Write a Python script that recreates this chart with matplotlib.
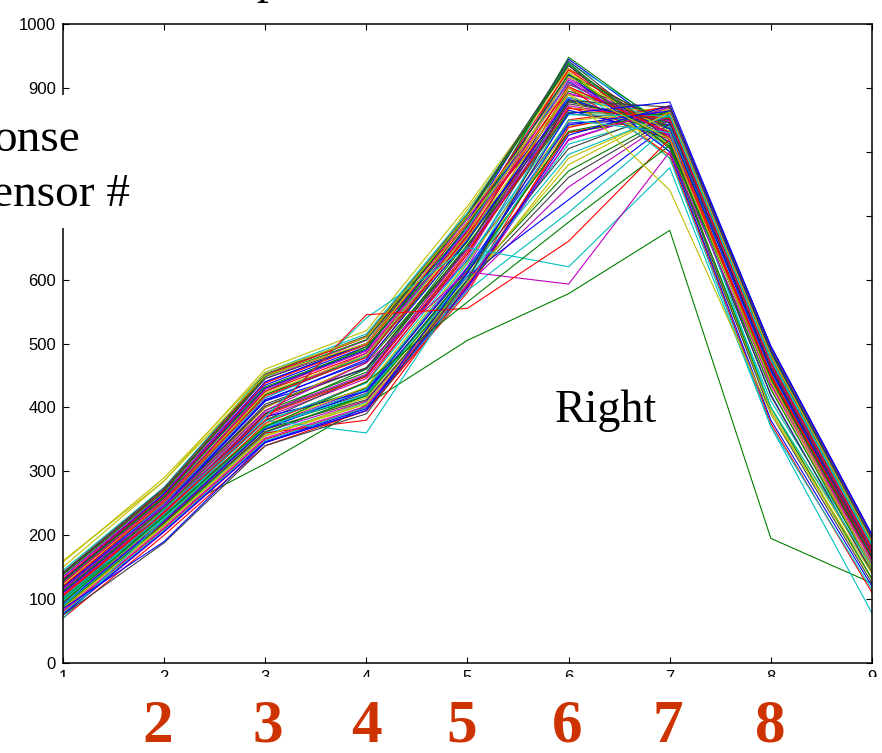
import matplotlib
matplotlib.use('Agg')
import matplotlib.pyplot as plt
from matplotlib.patches import Rectangle

# sensor index on the x axis
sensors = [1, 2, 3, 4, 5, 6, 7, 8, 9]

# responses, one row per trial (sensor 1..9)
resp_high = [
    [130, 260, 440, 500, 690, 945, 830, 470, 180],
    [120, 250, 420, 480, 680, 940, 840, 460, 170],
    [140, 270, 450, 510, 700, 935, 820, 450, 160],
    [110, 240, 400, 470, 670, 930, 835, 440, 175],
    [125, 255, 430, 490, 710, 925, 810, 430, 150],
    [100, 235, 390, 460, 660, 920, 845, 470, 190],
    [135, 265, 445, 505, 695, 915, 825, 455, 165],
    [115, 245, 410, 475, 685, 910, 815, 420, 140],
    [145, 275, 455, 515, 705, 940, 800, 410, 155],
    [105, 230, 380, 450, 650, 905, 850, 480, 185],
    [95, 225, 375, 440, 640, 900, 840, 465, 170],
    [150, 285, 460, 520, 715, 930, 790, 400, 145],
    [128, 258, 425, 495, 675, 948, 835, 445, 160],
    [118, 248, 415, 485, 665, 912, 828, 435, 158],
    [130, 265, 430, 490, 690, 920, 800, 380, 120],
    [115, 250, 415, 480, 680, 910, 790, 370, 115],
    [140, 272, 445, 500, 700, 935, 805, 390, 125],
    [132, 262, 438, 498, 688, 928, 822, 452, 162],
    [122, 252, 422, 482, 672, 918, 832, 442, 158],
    [138, 268, 448, 506, 698, 938, 812, 428, 148],
    [126, 256, 428, 488, 678, 908, 826, 436, 152],
    [142, 274, 452, 512, 702, 942, 818, 418, 142],
    [128, 260, 432, 492, 684, 922, 808, 400, 132],
    [120, 252, 418, 478, 668, 902, 830, 448, 162],
]
resp_mid = [
    [120, 250, 400, 470, 650, 895, 845, 470, 180],
    [100, 230, 370, 430, 620, 890, 855, 480, 195],
    [135, 265, 440, 500, 680, 885, 830, 450, 165],
    [90, 220, 360, 420, 610, 880, 860, 485, 190],
    [110, 240, 390, 450, 640, 875, 850, 475, 175],
    [140, 270, 450, 510, 690, 870, 820, 440, 150],
    [85, 215, 355, 410, 600, 868, 865, 490, 195],
    [125, 255, 420, 480, 660, 880, 838, 460, 170],
    [105, 235, 385, 445, 635, 892, 848, 455, 160],
    [130, 262, 435, 495, 670, 865, 826, 448, 168],
    [98, 228, 368, 428, 625, 885, 852, 478, 185],
    [115, 244, 405, 462, 648, 860, 842, 466, 176],
    [125, 255, 425, 485, 675, 900, 795, 375, 110],
    [105, 240, 400, 470, 665, 890, 810, 395, 130],
    [112, 242, 395, 455, 655, 862, 858, 482, 188],
    [108, 238, 392, 452, 648, 872, 848, 468, 178],
    [118, 246, 412, 472, 662, 882, 836, 458, 166],
    [102, 232, 378, 438, 632, 858, 856, 476, 186],
    [114, 244, 402, 462, 652, 878, 846, 462, 172],
    [106, 236, 388, 448, 644, 868, 852, 470, 180],
]
resp_low = [
    [80, 210, 350, 400, 590, 850, 870, 495, 200],
    [95, 225, 365, 415, 605, 840, 862, 485, 190],
    [110, 235, 380, 430, 615, 830, 855, 470, 180],
    [75, 205, 345, 395, 585, 820, 868, 490, 198],
    [120, 250, 410, 460, 630, 845, 850, 465, 172],
    [88, 218, 358, 408, 598, 812, 858, 480, 188],
    [102, 232, 372, 422, 612, 805, 865, 488, 192],
    [70, 200, 340, 395, 580, 838, 872, 495, 200],
    [85, 215, 355, 405, 590, 790, 860, 480, 190],
    [100, 228, 370, 418, 600, 770, 855, 470, 180],
    [92, 222, 362, 410, 592, 745, 850, 465, 175],
    [110, 238, 385, 425, 605, 725, 845, 460, 170],
    [78, 208, 348, 400, 583, 705, 840, 455, 168],
    [95, 226, 366, 412, 595, 760, 852, 472, 182],
    [85, 220, 360, 380, 590, 830, 860, 480, 190],
    [96, 226, 372, 432, 628, 848, 866, 492, 196],
    [88, 218, 362, 418, 612, 832, 862, 486, 192],
    [82, 212, 352, 402, 594, 818, 870, 494, 199],
    [92, 222, 366, 426, 618, 842, 864, 488, 194],
    [98, 226, 370, 420, 606, 796, 858, 474, 184],
    [86, 216, 356, 406, 596, 780, 862, 482, 190],
    [76, 206, 346, 398, 588, 826, 872, 496, 201],
]
# odd trials, with the colour each was drawn in
resp_odd = [
    [100, 230, 312, 404, 505, 578, 677, 195, 125],
    [70, 225, 385, 540, 650, 620, 775, 370, 78],
    [90, 240, 380, 360, 600, 850, 830, 400, 150],
    [115, 245, 395, 470, 612, 593, 800, 440, 160],
    [105, 235, 380, 545, 555, 660, 820, 450, 170],
    [95, 230, 370, 440, 565, 690, 810, 445, 165],
    [160, 285, 450, 500, 690, 890, 740, 390, 140],
    [75, 188, 340, 390, 600, 880, 870, 490, 195],
    [85, 190, 345, 395, 610, 860, 878, 495, 200],
    [158, 290, 455, 510, 700, 900, 820, 440, 150],
]
odd_colours = ['g', 'c', 'c', 'm', 'r', 'g', 'y', 'k', 'b', 'y']

y_ticks = [0, 100, 200, 300, 400, 500, 600, 700, 800, 900, 1000]
y_tick_labels = ['0', '100', '200', '300', '400', '500', '600', '', '', '900', '1000']
sensor_labels = ['2', '3', '4', '5', '6', '7', '8']

matlab = {'b': (0, 0, 1), 'g': (0, 0.5, 0), 'r': (1, 0, 0), 'c': (0, 0.75, 0.75),
          'm': (0.75, 0, 0.75), 'y': (0.75, 0.75, 0), 'k': (0.25, 0.25, 0.25)}
cycle = ['b', 'g', 'r', 'c', 'm', 'y', 'k']

W, H = 882, 753


def fx(px):
    return px / W


def fy(py):
    return 1 - py / H


fig = plt.figure(figsize=(W / 100, H / 100), dpi=100)
ax = fig.add_axes([fx(63), fy(663), (872 - 63) / W, (663 - 24) / H])

# interleave the groups so the colours mix like the MATLAB plot
groups = [resp_high, resp_mid, resp_low]
mixed = []
for i in range(max(len(g) for g in groups)):
    for g in groups:
        if i < len(g):
            mixed.append(g[i])
rows = resp_odd[:1] + mixed
cols = [odd_colours[0]] + [cycle[i % 7] for i in range(len(mixed))]
rows += resp_odd[1:]
cols += odd_colours[1:]
for row, c in zip(rows, cols):
    ax.plot(sensors, row, color=matlab[c], linewidth=0.8)

ax.set_xlim(1, 9)
ax.set_ylim(0, 1000)
ax.set_xticks(sensors)
ax.set_yticks(y_ticks)
ax.set_yticklabels(y_tick_labels)
ax.tick_params(direction='in', top=True, right=True, length=4, width=0.8,
               labelsize=12, pad=5)
for lab in ax.get_xticklabels() + ax.get_yticklabels():
    lab.set_fontfamily('Liberation Sans')
for s in ax.spines.values():
    s.set_linewidth(1.1)

# white boxes that cover the axis on the slide
fig.add_artist(Rectangle((0, fy(228)), fx(70), fy(95) - fy(228),
                         transform=fig.transFigure, facecolor='white',
                         edgecolor='none', zorder=3))
fig.add_artist(Rectangle((0, 0), 1, fy(677), transform=fig.transFigure,
                         facecolor='white', edgecolor='none', zorder=3))

serif = 'Liberation Serif'
fig.text(fx(80), fy(151), 'onse', ha='right', va='baseline',
         fontsize=34, family=serif, zorder=4)
fig.text(fx(130), fy(206), 'ensor #', ha='right', va='baseline',
         fontsize=34, family=serif, zorder=4)
fig.text(fx(606), fy(422), 'Right', ha='center', va='baseline',
         fontsize=33, family=serif, zorder=4)
fig.text(fx(268), fy(-7), 'p', ha='center', va='baseline',
         fontsize=34, family=serif, zorder=4)

label_x = [158, 268, 366, 462, 567, 668, 770]
for x, t in zip(label_x, sensor_labels):
    fig.text(fx(x), fy(742), t, ha='center', va='baseline', fontsize=44,
             family=serif, weight='bold', color='#CC3300', zorder=4)

fig.savefig('out.png', dpi=100)
